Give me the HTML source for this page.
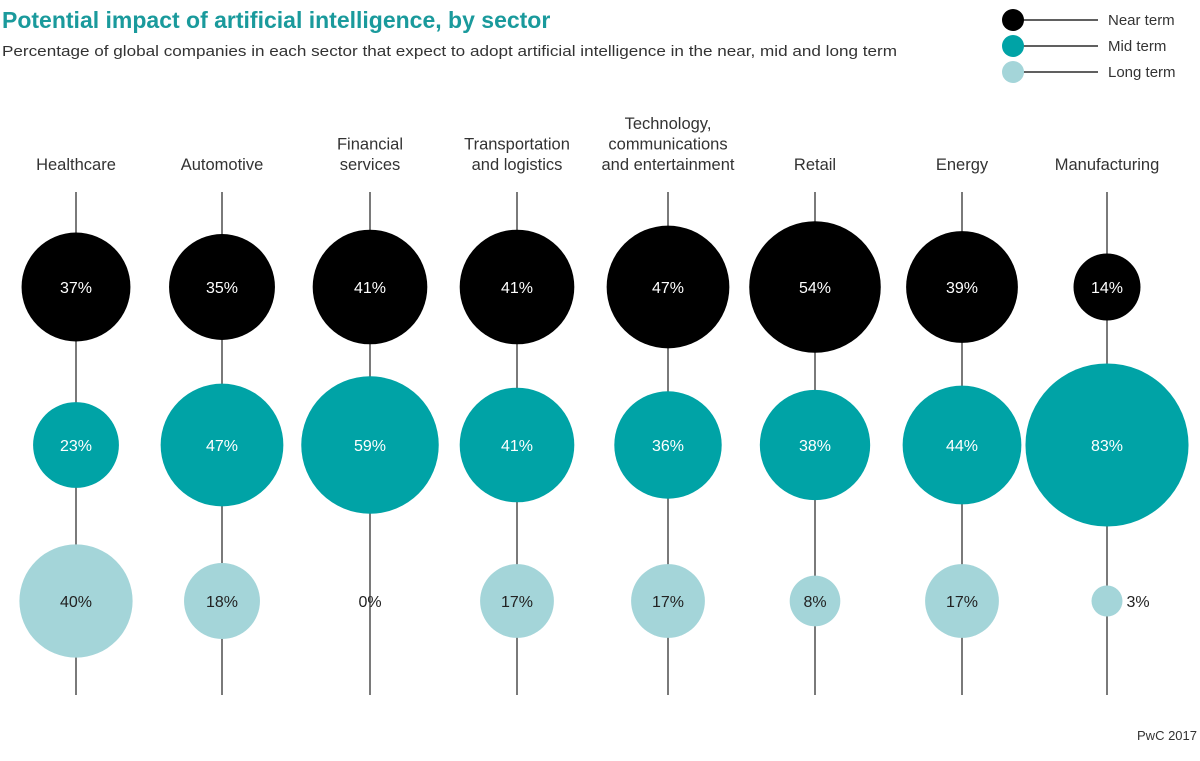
<!DOCTYPE html>
<html><head><meta charset="utf-8">
<style>
html,body{margin:0;padding:0;background:#fff;width:1200px;height:761px;overflow:hidden}
svg{display:block}
text{font-family:"Liberation Sans",sans-serif}
</style></head>
<body>
<svg id="chart" width="1200" height="761" viewBox="0 0 1200 761">
  <text x="2" y="28" font-size="23" font-weight="bold" fill="#1a9a9c">Potential impact of artificial intelligence, by sector</text>
  <text x="2" y="56" font-size="15" fill="#333" textLength="895" lengthAdjust="spacingAndGlyphs">Percentage of global companies in each sector that expect to adopt artificial intelligence in the near, mid and long term</text>
  <g>
    <line x1="1013" y1="20" x2="1098" y2="20" stroke="#000" stroke-width="1.2"/>
    <circle cx="1013" cy="20" r="11" fill="#000"/>
    <text x="1108" y="25" font-size="15" fill="#333">Near term</text>
    <line x1="1013" y1="46" x2="1098" y2="46" stroke="#000" stroke-width="1.2"/>
    <circle cx="1013" cy="46" r="11" fill="#00a3a6"/>
    <text x="1108" y="51" font-size="15" fill="#333">Mid term</text>
    <line x1="1013" y1="72" x2="1098" y2="72" stroke="#000" stroke-width="1.2"/>
    <circle cx="1013" cy="72" r="11" fill="#a4d5d9"/>
    <text x="1108" y="77" font-size="15" fill="#333">Long term</text>
  </g>
  <g id="plot"></g>
  <text x="1197" y="740" font-size="13" fill="#333" text-anchor="end">PwC 2017</text>
</svg>
<script>
const sectors = [["Healthcare"],["Automotive"],["Financial","services"],["Transportation","and logistics"],["Technology,","communications","and entertainment"],["Retail"],["Energy"],["Manufacturing"]];
const nearTerm = [37,35,41,41,47,54,39,14];
const midTerm = [23,47,59,41,36,38,44,83];
const longTerm = [40,18,0,17,17,8,17,3];

const ns = "http://www.w3.org/2000/svg";
const plot = document.getElementById("plot");
const colX = [76,222,370,517,668,815,962,1107];
function xPos(i){ return colX[i]; }
const rowY = [287,445,601];
function rScale(v){ return 8.95*Math.sqrt(v); }
const series = [
  {vals: nearTerm, fill:"#000", txt:"#fff", name:"near"},
  {vals: midTerm, fill:"#00a3a6", txt:"#fff", name:"mid"},
  {vals: longTerm, fill:"#a4d5d9", txt:"#222", name:"long"}
];
function mk(tag, attrs){ const e=document.createElementNS(ns,tag); for(const k in attrs) e.setAttribute(k,attrs[k]); return e; }

sectors.forEach((lines,i)=>{
  const x = xPos(i);
  const ln = mk("line",{x1:x,y1:192,x2:x,y2:695,stroke:"#222","stroke-width":1.2});
  
  
  plot.appendChild(ln);
  const lbl = mk("text",{x:x,"font-size":16.5,fill:"#333","text-anchor":"middle"});
  
  
  const lastY = 170, lh = 20.5;
  lines.forEach((t,j)=>{
    const ts = mk("tspan",{x:x,y:lastY-(lines.length-1-j)*lh});
    ts.textContent = t;
    lbl.appendChild(ts);
  });
  plot.appendChild(lbl);
  series.forEach((s,k)=>{
    const v = s.vals[i], r = rScale(v), y = rowY[k];
    if(v>0){
      const c = mk("circle",{cx:x,cy:y,r:r,fill:s.fill});
      
      
      plot.appendChild(c);
    }
    const outside = r>0 && r<22;
    const t = mk("text",{x: outside ? x+r+4 : x, y:y+6, "font-size":16,
      fill: (v===0||outside) ? "#222" : s.txt, "text-anchor": outside ? "start":"middle"});
    t.textContent = v+"%";
    
    
    plot.appendChild(t);
  });
});
</script>
</body></html>
